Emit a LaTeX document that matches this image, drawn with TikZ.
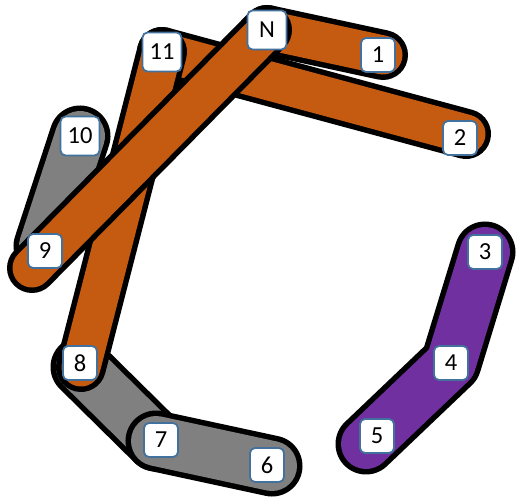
\documentclass[tikz,border=0pt]{standalone}
\usepackage{fontspec}
\setmainfont{Carlito}
\definecolor{edgeorange}{HTML}{C55A11}
\definecolor{edgepurple}{HTML}{7030A0}
\definecolor{edgegray}{HTML}{808080}
\definecolor{boxblue}{HTML}{41719C}
\pgfdeclarelayer{bands}
\pgfsetlayers{bands,main}
\begin{document}
\begin{tikzpicture}[x=1pt,y=-1pt,
  vertex/.style={draw=boxblue, line width=1.8pt, fill=white, rounded corners=5pt, minimum width=34pt, minimum height=34pt, inner sep=0pt, font=\fontsize{24.5}{26}\selectfont},
  wide/.style={minimum width=39pt, minimum height=39pt},
  thinband/.style={line width=39pt, line cap=round, line join=round, preaction={draw=black, line width=50pt, line cap=round, line join=round}},
  fatband/.style={line width=50pt, line cap=round, line join=round, preaction={draw=black, line width=61pt, line cap=round, line join=round}}]
\useasboundingbox (0,0) rectangle (516,500);
\node[vertex, wide] (nN) at (267,30) {N};
\node[vertex] (n1) at (378,55) {1};
\node[vertex] (n2) at (460,138) {2};
\node[vertex] (n3) at (485,252) {3};
\node[vertex] (n4) at (451,363) {4};
\node[vertex] (n5) at (377,436) {5};
\node[vertex] (n6) at (267,465) {6};
\node[vertex] (n7) at (161,440) {7};
\node[vertex] (n8) at (80,363) {8};
\node[vertex] (n9) at (45,251) {9};
\node[vertex, wide] (n10) at (80,136) {10};
\node[vertex, wide] (n11) at (162,52) {11};
\coordinate (c1) at (383,55);
\coordinate (c2) at (466,134);
\coordinate (c5) at (366,444);
\coordinate (c6) at (272,466);
\coordinate (c7) at (156,441);
\coordinate (c8) at (81,367);
\coordinate (c9) at (32,268);
\coordinate (g9) at (44,246);
\begin{pgfonlayer}{bands}
\draw[fatband, edgegray] (n10.center) -- (g9);
\draw[thinband, edgeorange] (n11.center) -- (c2);
\draw[fatband, edgegray] (c8) -- (c7);
\draw[fatband, edgegray] (c7) -- (c6);
\draw[thinband, edgeorange] (n11.center) -- (c8);
\draw[thinband, edgeorange] (nN.center) -- (c1);
\draw[thinband, edgeorange] (nN.center) -- (c9);
\draw[fatband, edgepurple] (n3.center) -- (n4.center) -- (c5);
\end{pgfonlayer}
\end{tikzpicture}
\end{document}
